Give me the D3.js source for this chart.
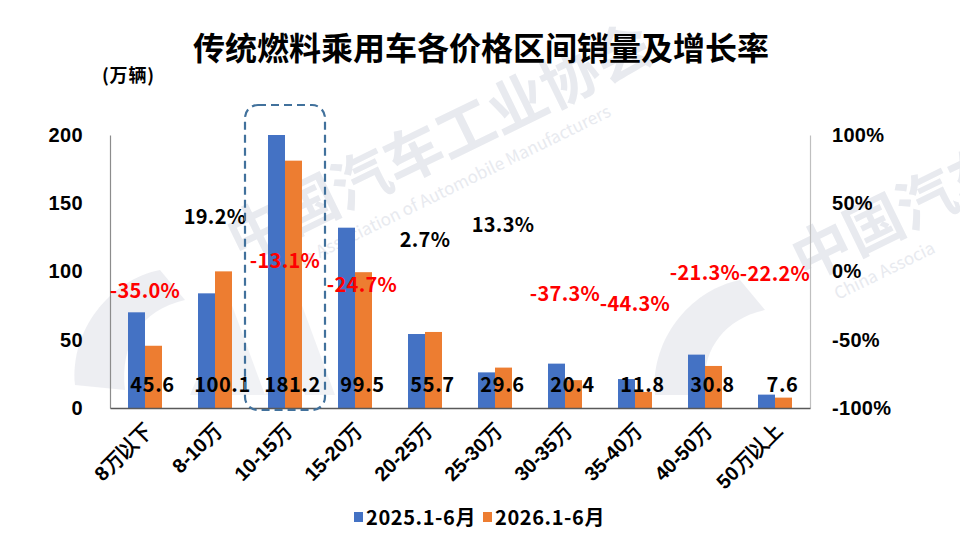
<!DOCTYPE html>
<html>
<head>
<meta charset="utf-8">
<script src="https://cdn.jsdelivr.net/npm/d3@7"></script>
<style>
  body { margin: 0; background: #fff; }
  svg { display: block; font-family: "Noto Sans CJK SC", "Noto Sans", sans-serif; font-weight: bold; }
</style>
</head>
<body>
<div id="chart"></div>
<script>
const width = 960;
const height = 541;

// Data
const categories = ["8万以下", "8-10万", "10-15万", "15-20万", "20-25万", "25-30万", "30-35万", "35-40万", "40-50万", "50万以上"];
const seriesNames = ["2025.1-6月", "2026.1-6月"];
const sales2025 = [70.1, 84.0, 208.5, 132.1, 54.2, 26.1, 32.5, 21.2, 39.1, 9.8];
const sales2026 = [45.6, 100.1, 181.2, 99.5, 55.7, 29.6, 20.4, 11.8, 30.8, 7.6];
const growth = [-35.0, 19.2, -13.1, -24.7, 2.7, 13.3, -37.3, -44.3, -21.3, -22.2];
const leftTicks = [0, 50, 100, 150, 200];
const rightTicks = [-100, -50, 0, 50, 100];
const colors = ["#4472C4", "#ED7D31"];

const margin = { top: 135, right: 150, bottom: 133, left: 110 };

const svg = d3.select("#chart")
  .append("svg")
  .attr("width", width)
  .attr("height", height);

// Watermark (faint logo + association name)
const wm = svg.append("g").attr("fill", "#e8eaef");
wm.append("path")
  .attr("d", "M75,385 C70,330 110,280 160,270 L185,300 C140,310 120,345 125,390 Z")
  .attr("opacity", 0.8);
wm.append("path")
  .attr("d", "M190,395 L230,300 L265,395 L300,300 L335,395 L305,395 L300,380 L285,395 Z")
  .attr("opacity", 0.6);
wm.append("path")
  .attr("d", "M655,395 C650,340 690,290 740,280 L765,310 C720,320 700,355 705,395 Z")
  .attr("opacity", 0.8);
wm.append("text")
  .attr("transform", "translate(240,262) rotate(-26)")
  .attr("font-size", 58)
  .text("中国汽车工业协会");
wm.append("text")
  .attr("transform", "translate(275,280) rotate(-26)")
  .attr("font-size", 17)
  .attr("font-weight", "normal")
  .text("China Association of Automobile Manufacturers");
wm.append("text")
  .attr("transform", "translate(805,282) rotate(-26)")
  .attr("font-size", 58)
  .text("中国汽车");
wm.append("text")
  .attr("transform", "translate(838,300) rotate(-26)")
  .attr("font-size", 17)
  .attr("font-weight", "normal")
  .text("China Associa");

// Scales
const x0 = d3.scaleBand()
  .domain(categories)
  .range([margin.left, width - margin.right]);

const x1 = d3.scaleBand()
  .domain(seriesNames)
  .range([x0.bandwidth() / 2 - 17, x0.bandwidth() / 2 + 17]);

const y = d3.scaleLinear()
  .domain([0, 200])
  .range([height - margin.bottom, margin.top])
  .clamp(true);

const yR = d3.scaleLinear()
  .domain([-100, 100])
  .range([height - margin.bottom, margin.top]);

// Title
svg.append("text")
  .attr("x", 481)
  .attr("y", 60)
  .attr("text-anchor", "middle")
  .attr("font-size", 32)
  .attr("fill", "#000")
  .text("传统燃料乘用车各价格区间销量及增长率");

svg.append("text")
  .attr("x", 102)
  .attr("y", 82)
  .attr("font-size", 18)
  .attr("letter-spacing", 0.8)
  .text("(万辆)");

// Bars
const rows = categories.map((c, i) => ({ cat: c, vals: [sales2025[i], sales2026[i]] }));

const groups = svg.append("g")
  .selectAll("g")
  .data(rows)
  .join("g")
  .attr("transform", d => `translate(${x0(d.cat)},0)`);

groups.selectAll("rect")
  .data(d => d.vals.map((v, k) => ({ key: seriesNames[k], v, k })))
  .join("rect")
  .attr("x", d => x1(d.key))
  .attr("width", x1.bandwidth())
  .attr("y", d => y(d.v))
  .attr("height", d => y(0) - y(d.v))
  .attr("fill", d => colors[d.k]);

// Axes
const leftAxis = d3.axisLeft(y).tickValues(leftTicks).tickSize(0).tickPadding(27);
const gL = svg.append("g")
  .attr("transform", `translate(${margin.left},0)`)
  .call(leftAxis);
gL.select(".domain").attr("stroke", "#8c8c8c").attr("stroke-width", 1.2);
gL.selectAll("text").attr("font-size", 20).attr("letter-spacing", 0.4)
  .attr("font-family", "inherit").attr("fill", "#000");

const rightAxis = d3.axisRight(yR).tickValues(rightTicks).tickSize(0).tickPadding(22)
  .tickFormat(d => d + "%");
const gR = svg.append("g")
  .attr("transform", `translate(${width - margin.right},0)`)
  .call(rightAxis);
gR.select(".domain").attr("stroke", "#bfbfbf").attr("stroke-width", 1.2);
gR.selectAll("text").attr("font-size", 20).attr("letter-spacing", 0.3)
  .attr("font-family", "inherit").attr("fill", "#000");

const bottomAxis = d3.axisBottom(x0).tickSize(0).tickPadding(0);
const gB = svg.append("g")
  .attr("transform", `translate(0,${height - margin.bottom})`)
  .call(bottomAxis);
gB.select(".domain").attr("stroke", "#595959").attr("stroke-width", 1.5);
gB.selectAll("text")
  .attr("font-size", 20)
  .attr("font-family", "inherit")
  .attr("fill", "#000")
  .attr("text-anchor", "end")
  .attr("dy", null)
  .attr("y", 0)
  .attr("transform", "translate(8,24) rotate(-45)");

// Sales labels (2026)
svg.append("g")
  .selectAll("text")
  .data(rows)
  .join("text")
  .attr("x", d => x0(d.cat) + x1(seriesNames[1]) + x1.bandwidth() / 2 - 1)
  .attr("y", 392)
  .attr("text-anchor", "middle")
  .attr("font-size", 20)
  .attr("letter-spacing", 0.6)
  .attr("fill", "#000")
  .text(d => d.vals[1].toFixed(1));

// Growth labels
const nudge = { 3: [7, 8], 5: [8, 0] };
svg.append("g")
  .selectAll("text")
  .data(growth)
  .join("text")
  .attr("x", (g, i) => x0(categories[i]) + x0.bandwidth() / 2 + (nudge[i] ? nudge[i][0] : 0))
  .attr("y", (g, i) => yR(g) - 21 + (nudge[i] ? nudge[i][1] : 0))
  .attr("text-anchor", "middle")
  .attr("font-size", 20)
  .attr("letter-spacing", 0.3)
  .attr("fill", g => g < 0 ? "#FF0000" : "#000")
  .text(g => g.toFixed(1) + "%");

// Highlight box around 10-15万
const hx = x0("10-15万");
svg.append("rect")
  .attr("x", hx + x0.bandwidth() / 2 - 40)
  .attr("y", 105)
  .attr("width", 80)
  .attr("height", 305)
  .attr("rx", 13)
  .attr("fill", "none")
  .attr("stroke", "#41719C")
  .attr("stroke-width", 2.2)
  .attr("stroke-dasharray", "8,5");

// Legend
const legend = svg.append("g").attr("transform", "translate(354,525)");
const legendX = [0, 129];
seriesNames.forEach((s, k) => {
  legend.append("rect")
    .attr("x", legendX[k])
    .attr("y", -13)
    .attr("width", 9)
    .attr("height", 10)
    .attr("fill", colors[k]);
  legend.append("text")
    .attr("x", legendX[k] + 12)
    .attr("y", 0)
    .attr("font-size", 20)
    .attr("letter-spacing", 0.6)
    .attr("fill", "#000")
    .text(s);
});
</script>
</body>
</html>
